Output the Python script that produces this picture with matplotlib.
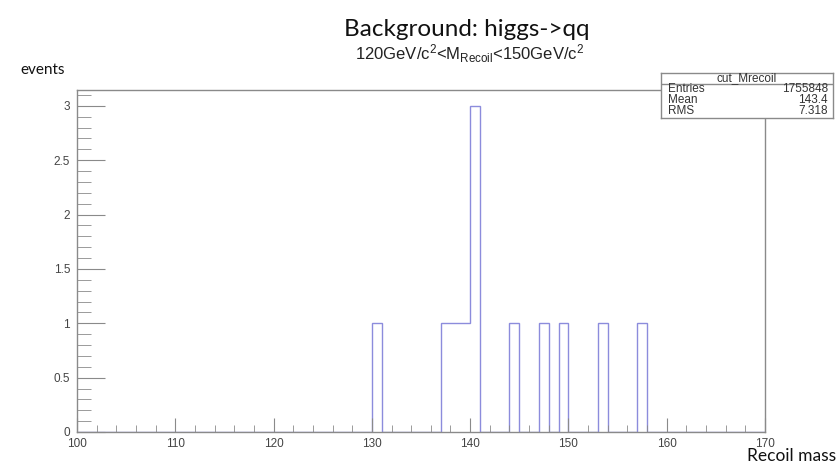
import numpy as np
import matplotlib
matplotlib.use("Agg")
import matplotlib.pyplot as plt
from matplotlib.ticker import MultipleLocator

plt.rcParams['font.family'] = ['Liberation Sans', 'DejaVu Sans']
plt.rcParams['mathtext.default'] = 'regular'

# histogram content (1 GeV bins from 100 to 170)
x_min, x_max, bin_width = 100, 170, 1
filled_bins = [130, 137, 138, 139, 140, 144, 147, 149, 153, 157]
filled_counts = [1, 1, 1, 1, 3, 1, 1, 1, 1, 1]

# stats box
stats_name = "cut_Mrecoil"
stats_labels = ["Entries", "Mean", "RMS"]
stats_values = ["1755848", "143.4", "7.318"]

title = "Background: higgs->qq"
subtitle = r"120GeV/c$^2$<M$_{Recoil}$<150GeV/c$^2$"

edges = np.arange(x_min, x_max + bin_width, bin_width)
counts = np.zeros(len(edges) - 1)
for b, c in zip(filled_bins, filled_counts):
    counts[int((b - x_min) / bin_width)] = c

W, H = 838, 466
fig = plt.figure(figsize=(W / 100, H / 100), dpi=100)
ax = fig.add_axes([77 / W, 1 - 432 / H, (765 - 77) / W, (432 - 89.5) / H])

ax.stairs(counts, edges, color='#8c8cdc', linewidth=1.0, baseline=0)

ax.set_xlim(x_min, x_max)
ax.set_ylim(0, 3.15)

frame_col = '#8a8a8a'
for s in ax.spines.values():
    s.set_color(frame_col)
    s.set_linewidth(1.0)

ax.xaxis.set_major_locator(MultipleLocator(10))
ax.xaxis.set_minor_locator(MultipleLocator(2))
ax.yaxis.set_major_locator(MultipleLocator(0.5))
ax.yaxis.set_minor_locator(MultipleLocator(0.1))
ax.tick_params(axis='x', which='major', direction='in', length=10, color=frame_col,
               labelsize=8.5, labelcolor='#444444', pad=4, top=False)
ax.tick_params(axis='x', which='minor', direction='in', length=5, color=frame_col, top=False)
ax.tick_params(axis='y', which='major', direction='in', length=20, color=frame_col,
               labelsize=8.5, labelcolor='#444444', pad=5, right=False)
ax.tick_params(axis='y', which='minor', direction='in', length=10, color=frame_col, right=False)
ax.set_yticks([0, 0.5, 1, 1.5, 2, 2.5, 3])
ax.set_yticklabels(['0', '0.5', '1', '1.5', '2', '2.5', '3'])

# titles
fig.text(467 / W, 1 - 30 / H, title, ha='center', va='center',
         fontsize=17.5, family=['Lato', 'DejaVu Sans'], color='#111111')
fig.text(470 / W, 1 - 54 / H, subtitle, ha='center', va='center',
         fontsize=12, color='#222222')
fig.text(20 / W, 1 - 70 / H, "events", ha='left', va='center',
         fontsize=11, family=['Lato', 'DejaVu Sans'], color='#111111')
fig.text(836 / W, 1 - 456 / H, "Recoil mass", ha='right', va='center',
         fontsize=12.5, family=['Lato', 'DejaVu Sans'], color='#111111')

# stats box
bx0, bx1 = 661 / W, 833 / W
by_top, by_bot = 1 - 73 / H, 1 - 118 / H
sax = fig.add_axes([bx0, by_bot, bx1 - bx0, by_top - by_bot])
sax.set_xlim(0, 1)
sax.set_ylim(0, 45)
sax.set_xticks([])
sax.set_yticks([])
for s in sax.spines.values():
    s.set_color(frame_col)
    s.set_linewidth(1.0)
sax.axhline(34, color=frame_col, linewidth=1.0)
sax.text(0.5, 39.5, stats_name, ha='center', va='center', fontsize=8.5,
         color='#333333')
for i, (lab, val) in enumerate(zip(stats_labels, stats_values)):
    yy = 28.5 - i * 10.5
    sax.text(0.04, yy, lab, ha='left', va='center', fontsize=8.5, color='#333333')
    sax.text(0.97, yy, val, ha='right', va='center', fontsize=8.5, color='#333333')

fig.savefig("out.png", dpi=100)
